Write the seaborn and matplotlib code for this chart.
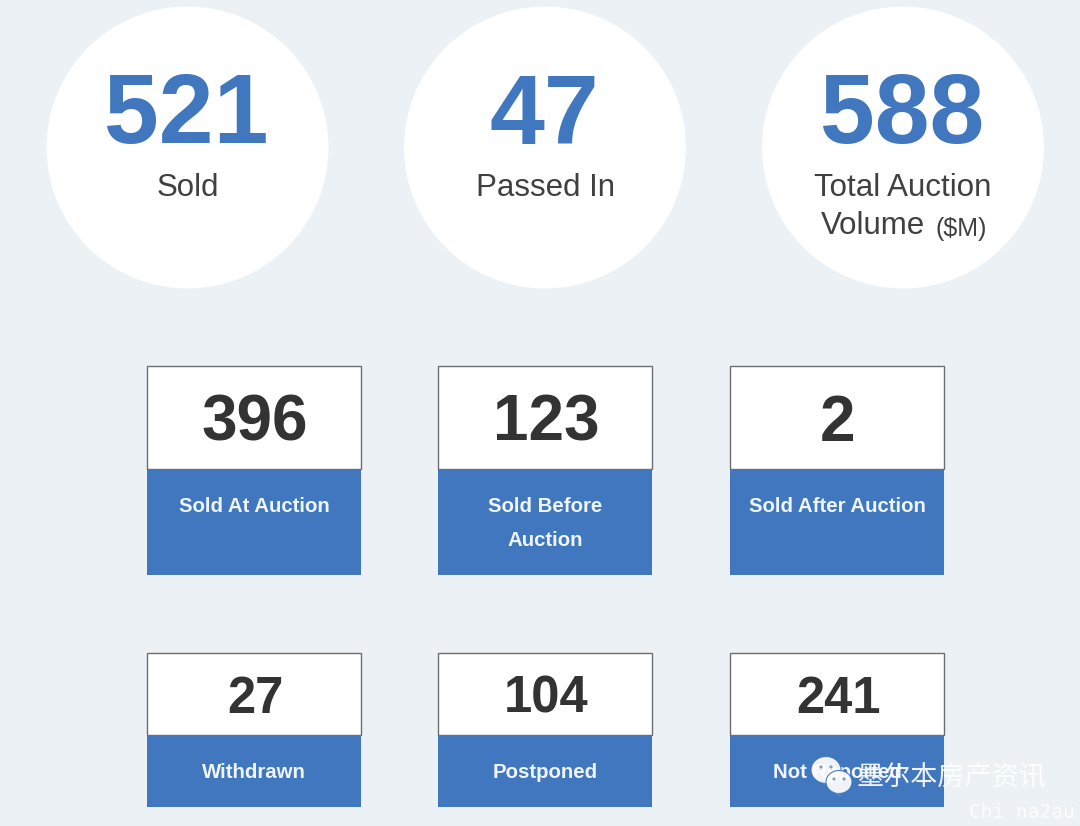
import matplotlib
matplotlib.use("Agg")
import matplotlib.pyplot as plt
from matplotlib.patches import Circle, Rectangle, Ellipse, Polygon
import seaborn as sns

# valores do painel
top_values = ["521", "47", "588"]
top_labels = ["Sold", "Passed In", "Total Auction\nVolume"]
mid_values = ["396", "123", "2"]
mid_labels = ["Sold At Auction", "Sold Before\nAuction", "Sold After Auction"]
low_values = ["27", "104", "241"]
low_labels = ["Withdrawn", "Postponed", "Not Reported"]

BG = "#ecf1f5"
BLUE = "#4077bf"
DARK = "#333333"
SANS = ["Liberation Sans", "DejaVu Sans"]

sns.set_theme(style="white")
plt.rcParams["font.family"] = SANS

fig = plt.figure(figsize=(10.8, 8.26), dpi=100, facecolor=BG)
ax = fig.add_axes([0, 0, 1, 1])
ax.set_xlim(0, 1080)
ax.set_ylim(826, 0)
ax.axis("off")
ax.set_facecolor(BG)

# circulos de cima
circle_x = [187.5, 545, 903]
for cx, val, lab in zip(circle_x, top_values, top_labels):
    ax.add_patch(Circle((cx, 147.5), 141, fc="white", ec="none"))
    ax.text(cx - 1, 108, val, ha="center", va="center_baseline", fontsize=71, fontweight="bold", color=BLUE)
    if "\n" in lab:
        l1, l2 = lab.split("\n")
        ax.text(cx, 188, l1, ha="center", va="center", fontsize=22.5, color="#404040")
        ax.text(cx - 30, 226, l2, ha="center", va="center", fontsize=22.5, color="#404040")
        ax.text(cx + 58, 229, "($M)", ha="center", va="center", fontsize=18, color="#404040")
    else:
        ax.text(cx, 188, lab, ha="center", va="center", fontsize=22.5, color="#404040")


def card(x, top, mid, bottom, val, lab, val_size, lab_y):
    w = 214
    ax.add_patch(Rectangle((x, top), w, mid - top, fc="white", ec="#6b6f73", lw=1))
    ax.add_patch(Rectangle((x, mid), w, bottom - mid, fc=BLUE, ec="none"))
    ax.text(x + w / 2 + 1, (top + mid) / 2, val, ha="center", va="center_baseline",
            fontsize=val_size, fontweight="bold", color=DARK)
    for i, line in enumerate(lab.split("\n")):
        ax.text(x + w / 2, lab_y + i * 33, line, ha="center", va="center",
                fontsize=14.7, fontweight="bold", color="#eef5fb")


card_x = [147, 438, 730]
for x, val, lab in zip(card_x, mid_values, mid_labels):
    card(x, 365.5, 469, 574.5, val, lab, 46, 507)
for x, val, lab in zip(card_x, low_values, low_labels):
    card(x, 652.5, 735, 807, val, lab, 36.5, 773)

# marca d'agua
for (cx, cy, w, h, tail) in [(826, 770, 30, 27, -1), (839, 782, 26, 23, 1)]:
    ax.add_patch(Ellipse((cx, cy), w, h, fc="white", ec=BLUE, lw=0.8, alpha=0.93, zorder=5))
    ax.add_patch(Polygon([(cx - 6 * tail, cy + 9), (cx - 1 * tail, cy + 12), (cx + 3 * tail, cy + 15)],
                         fc="white", ec="none", alpha=0.93, zorder=5))
    ax.add_patch(Circle((cx - 5, cy - 3), 1.6, fc="#8a9db5", ec="none", zorder=6))
    ax.add_patch(Circle((cx + 5, cy - 3), 1.6, fc="#8a9db5", ec="none", zorder=6))
ax.text(951, 777, "墨尔本房产资讯", ha="center", va="center", fontsize=19.5,
        family=["Noto Sans CJK SC", "DejaVu Sans"], color="white", alpha=0.92, zorder=6, fontweight="light")
ax.text(1022, 813, "Chi na2au", ha="center", va="center", fontsize=14,
        family=["DejaVu Sans Mono"], color="white", alpha=0.85, zorder=6)

fig.savefig("out.png", dpi=100, facecolor=BG)
